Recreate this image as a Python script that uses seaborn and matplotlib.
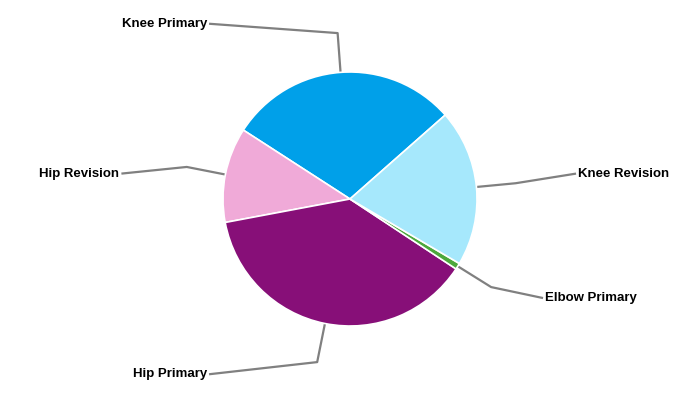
import numpy as np
import matplotlib
matplotlib.use("Agg")
import matplotlib.pyplot as plt
import seaborn as sns

# slice data, in drawing order (counter-clockwise from the start angle)
labels = ["Knee Primary", "Hip Revision", "Hip Primary", "Elbow Primary", "Knee Revision"]
values = [29.4, 12.1, 37.8, 0.8, 20.0]
colors = ["#00A0E9", "#F0AAD8", "#870F78", "#4CA83C", "#A6E8FC"]

# label anchor points, in units of the pie radius
label_pos = [(-1.11, 1.38), (-1.80, 0.20), (-1.11, -1.38), (1.52, -0.78), (1.78, 0.20)]

sns.set_style("white")
plt.rcParams['font.family'] = ['Liberation Sans', 'DejaVu Sans']

fig = plt.figure(figsize=(7, 4), dpi=100)
ax = fig.add_axes([0, 0, 1, 1])

wedges, _ = ax.pie(values, colors=colors, startangle=41.4, counterclock=True,
                   radius=1.0, center=(0, 0),
                   wedgeprops=dict(edgecolor="white", linewidth=1.2))

# 127 px per radius, centre at (350, 199) px from top-left
r_px = 127
ax.set_xlim(-350 / r_px, 350 / r_px)
ax.set_ylim(-201 / r_px, 199 / r_px)
ax.set_aspect("auto")
ax.axis("off")

for w, lab, (lx, ly) in zip(wedges, labels, label_pos):
    ang = np.deg2rad((w.theta1 + w.theta2) / 2)
    cx, cy = np.cos(ang), np.sin(ang)
    xs = [cx, 1.31 * cx, lx]
    ys = [cy, 1.31 * cy, ly]
    ax.plot(xs, ys, color="#808080", linewidth=1.6, solid_capstyle="butt", zorder=0)
    ha = "right" if lx < 0 else "left"
    off = -0.015 if lx < 0 else 0.015
    ax.text(lx + off, ly, lab, ha=ha, va="center", fontsize=9.5, fontweight="bold", color="black")

fig.savefig("out.png", dpi=100)
